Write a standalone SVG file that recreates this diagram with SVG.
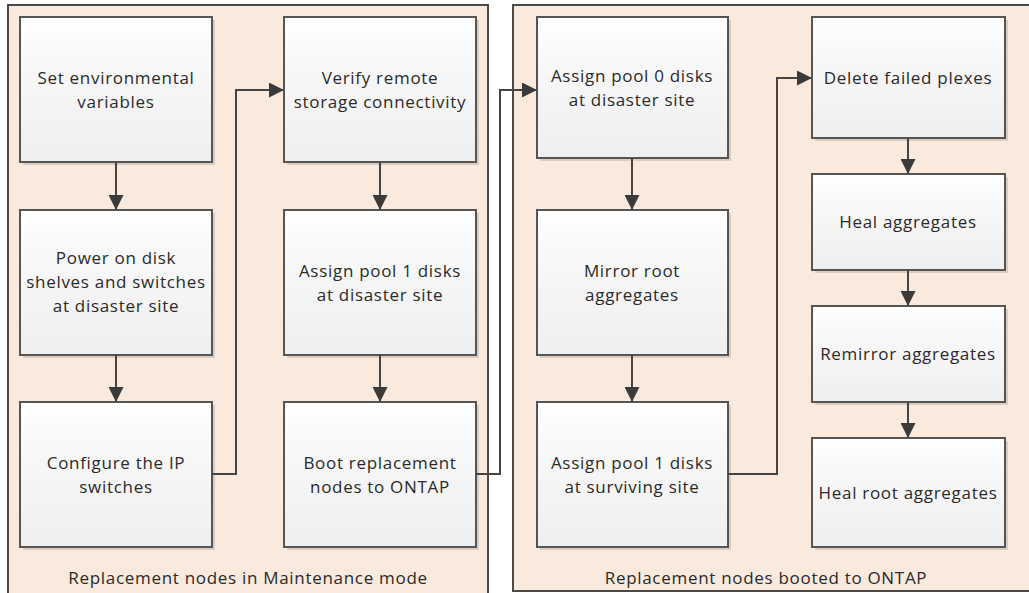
<svg xmlns="http://www.w3.org/2000/svg" width="1029" height="593" viewBox="0 0 1029 593">
<defs>
<linearGradient id="g" x1="0" y1="0" x2="0" y2="1">
<stop offset="0" stop-color="#ffffff"/>
<stop offset="0.25" stop-color="#f9f9f9"/>
<stop offset="1" stop-color="#efefef"/>
</linearGradient>
<marker id="ah" viewBox="0 0 15 15" refX="14" refY="7.5" markerWidth="15" markerHeight="15" markerUnits="userSpaceOnUse" orient="auto">
<path d="M0,0 L15,7.5 L0,15 Z" fill="#3a3a3a"/>
</marker>
</defs>
<style>
.panel{fill:#fae9dd;stroke:#4a4a4a;stroke-width:2}
.box{fill:url(#g);stroke:#555;stroke-width:2}
.sh{fill:#000;opacity:0.12}
.t{font-family:"Open Sans","Noto Sans",sans-serif;font-size:17px;letter-spacing:0.7px;fill:#2a2a2a;text-anchor:middle}
.c{fill:none;stroke:#444;stroke-width:2;marker-end:url(#ah)}
</style>
<rect width="1029" height="593" fill="#ffffff"/>
<g id="panel-maintenance">
<rect class="panel" x="8" y="5" width="480" height="600"/>
<text class="t" x="248" y="584">Replacement nodes in Maintenance mode</text>
</g>
<g id="panel-ontap">
<rect class="panel" x="513" y="5" width="530" height="586"/>
<text class="t" x="766" y="584">Replacement nodes booted to ONTAP</text>
</g>
<g id="n1">
<rect class="sh" x="23" y="20" width="192" height="145"/>
<rect class="box" x="20" y="17" width="192" height="145"/>
<text class="t" x="116" y="84">Set environmental</text>
<text class="t" x="116" y="108">variables</text>
</g>
<g id="n2">
<rect class="sh" x="23" y="213" width="192" height="145"/>
<rect class="box" x="20" y="210" width="192" height="145"/>
<text class="t" x="116" y="264">Power on disk</text>
<text class="t" x="116" y="288">shelves and switches</text>
<text class="t" x="116" y="312">at disaster site</text>
</g>
<g id="n3">
<rect class="sh" x="23" y="405" width="192" height="145"/>
<rect class="box" x="20" y="402" width="192" height="145"/>
<text class="t" x="116" y="469">Configure the IP</text>
<text class="t" x="116" y="493">switches</text>
</g>
<g id="n4">
<rect class="sh" x="287" y="20" width="192" height="145"/>
<rect class="box" x="284" y="17" width="192" height="145"/>
<text class="t" x="380" y="84">Verify remote</text>
<text class="t" x="380" y="108">storage connectivity</text>
</g>
<g id="n5">
<rect class="sh" x="287" y="213" width="192" height="145"/>
<rect class="box" x="284" y="210" width="192" height="145"/>
<text class="t" x="380" y="277">Assign pool 1 disks</text>
<text class="t" x="380" y="301">at disaster site</text>
</g>
<g id="n6">
<rect class="sh" x="287" y="405" width="192" height="145"/>
<rect class="box" x="284" y="402" width="192" height="145"/>
<text class="t" x="380" y="469">Boot replacement</text>
<text class="t" x="380" y="493">nodes to ONTAP</text>
</g>
<g id="n7">
<rect class="sh" x="540" y="20" width="191" height="141"/>
<rect class="box" x="537" y="17" width="191" height="141"/>
<text class="t" x="632" y="82">Assign pool 0 disks</text>
<text class="t" x="632" y="106">at disaster site</text>
</g>
<g id="n8">
<rect class="sh" x="540" y="213" width="191" height="145"/>
<rect class="box" x="537" y="210" width="191" height="145"/>
<text class="t" x="632" y="277">Mirror root</text>
<text class="t" x="632" y="301">aggregates</text>
</g>
<g id="n9">
<rect class="sh" x="540" y="405" width="191" height="145"/>
<rect class="box" x="537" y="402" width="191" height="145"/>
<text class="t" x="632" y="469">Assign pool 1 disks</text>
<text class="t" x="632" y="493">at surviving site</text>
</g>
<g id="n10">
<rect class="sh" x="815" y="20" width="193" height="121"/>
<rect class="box" x="812" y="17" width="193" height="121"/>
<text class="t" x="908" y="84">Delete failed plexes</text>
</g>
<g id="n11">
<rect class="sh" x="815" y="177" width="193" height="96"/>
<rect class="box" x="812" y="174" width="193" height="96"/>
<text class="t" x="908" y="228">Heal aggregates</text>
</g>
<g id="n12">
<rect class="sh" x="815" y="309" width="193" height="96"/>
<rect class="box" x="812" y="306" width="193" height="96"/>
<text class="t" x="908" y="360">Remirror aggregates</text>
</g>
<g id="n13">
<rect class="sh" x="815" y="441" width="193" height="109"/>
<rect class="box" x="812" y="438" width="193" height="109"/>
<text class="t" x="908" y="499">Heal root aggregates</text>
</g>
<g id="connectors">
<path class="c" d="M116,162 V209"/>
<path class="c" d="M116,355 V401"/>
<path class="c" d="M212,474 H236 V90 H283"/>
<path class="c" d="M380,162 V209"/>
<path class="c" d="M380,355 V401"/>
<path class="c" d="M476,474 H500 V90 H536"/>
<path class="c" d="M632,158 V209"/>
<path class="c" d="M632,355 V401"/>
<path class="c" d="M728,474 H777 V78 H811"/>
<path class="c" d="M908,138 V173"/>
<path class="c" d="M908,270 V305"/>
<path class="c" d="M908,402 V437"/>
</g>
</svg>
